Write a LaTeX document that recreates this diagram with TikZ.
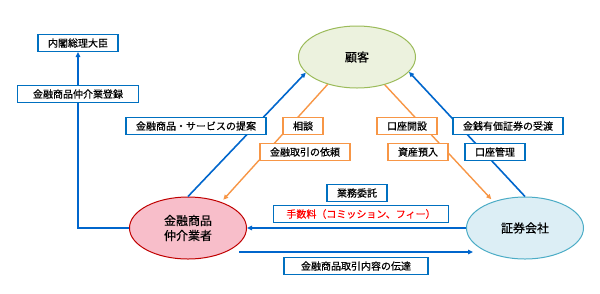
\documentclass[tikz,border=0pt]{standalone}
\usepackage{fontspec}
\newfontfamily\jpfont[FakeBold=0.4]{Noto Sans CJK JP}
\usetikzlibrary{arrows.meta,shapes.geometric}

\definecolor{lineblue}{RGB}{0,102,204}
\definecolor{boxblue}{RGB}{0,112,192}
\definecolor{lineorange}{RGB}{247,150,70}
\definecolor{custfill}{RGB}{236,242,222}
\definecolor{custline}{RGB}{155,187,89}
\definecolor{brokfill}{RGB}{248,190,202}
\definecolor{brokline}{RGB}{192,0,0}
\definecolor{secfill}{RGB}{220,238,245}
\definecolor{secline}{RGB}{75,172,198}

\begin{document}
\begin{tikzpicture}[x=1pt, y=-1pt,
  party/.style={ellipse, draw, line width=1pt, minimum width=117pt, minimum height=62pt, inner sep=0pt, align=center, font=\jpfont\fontsize{12}{15}\selectfont},
  bbox/.style={draw=boxblue, fill=white, line width=1.2pt, minimum height=17pt, inner xsep=10pt, inner ysep=0pt, font=\jpfont\fontsize{10}{12}\selectfont},
  obox/.style={bbox, draw=lineorange},
  barr/.style={-{Triangle[length=5pt, width=4.5pt]}, draw=lineblue, line width=1.6pt},
  oarr/.style={-{Triangle[length=5pt, width=4.5pt]}, draw=lineorange, line width=1.4pt}
]
  \useasboundingbox (0,0) rectangle (600,293);

  % parties
  \node[party, draw=custline, fill=custfill] (customer) at (357,57) {顧客};
  \node[party, draw=brokline, fill=brokfill] (broker) at (188,228) {金融商品\\仲介業者};
  \node[party, draw=secline, fill=secfill] (securities) at (525,228) {証券会社};
  \node[bbox] (cabinet) at (78,43) {内閣総理大臣};

  \coordinate (relstart) at (239,252);
  \coordinate (relend) at (473,252);

  % connectors
  \draw[barr] (broker.west) -| (cabinet.south);
  \draw[barr] (broker.north) -- (customer.197);
  \draw[barr] (securities.north) -- (customer.-16);
  \draw[oarr, shorten >=3pt] (customer.223) -- (broker.38);
  \draw[oarr, shorten >=3pt] (customer.-45) -- (securities.140);
  \draw[barr] (securities.west) -- (broker.east);
  \draw[barr] (relstart) -- (relend);

  % labels
  \node[bbox, minimum width=121pt] (register) at (78,94) {金融商品仲介業登録};
  \node[bbox] (propose) at (196,126) {金融商品・サービスの提案};
  \node[obox] (consult) at (303,126) {相談};
  \node[obox] (order) at (305,152) {金融取引の依頼};
  \node[obox] (opening) at (407,126) {口座開設};
  \node[obox] (deposit) at (418,152) {資産預入};
  \node[bbox] (delivery) at (508,126) {金銭有価証券の受渡};
  \node[bbox] (account) at (495,152) {口座管理};
  \node[bbox] (entrust) at (357,193) {業務委託};
  \node[bbox, text=red, minimum width=175pt] (fee) at (361,214) {手数料（コミッション、フィー）};
  \node[bbox, minimum width=144pt] (report) at (356,266) {金融商品取引内容の伝達};
\end{tikzpicture}
\end{document}
